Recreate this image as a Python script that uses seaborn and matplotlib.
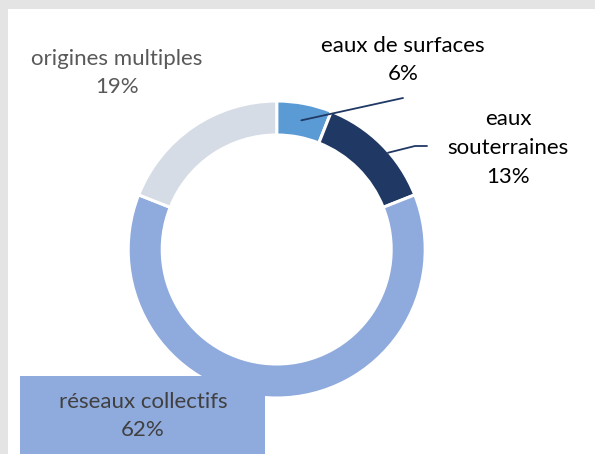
import numpy as np
import matplotlib
matplotlib.use("Agg")
import matplotlib.pyplot as plt
import seaborn as sns
from matplotlib.patches import Rectangle

# donnees du graphique
categories = ["eaux de surfaces", "eaux souterraines", "réseaux collectifs", "origines multiples"]
values     = [6, 13, 62, 19]
labels     = ["eaux de surfaces\n6%", "eaux\nsouterraines\n13%", "réseaux collectifs\n62%", "origines multiples\n19%"]
colors     = ["#5B9BD5", "#203864", "#8FAADC", "#D6DCE5"]

sns.set_theme(style="white")
plt.rcParams["font.family"] = ["Lato", "DejaVu Sans"]

W, H = 595, 454
fig = plt.figure(figsize=(W / 100, H / 100), dpi=100)
fig.patch.set_facecolor("#E4E4E4")

ax = fig.add_axes([0, 0, 1, 1])
ax.patch.set_alpha(0)

cx, cy = 276.7, H - 249.5
R = 148.5
ring = 34

# fond blanc de la zone du graphique
ax.add_patch(Rectangle((8, 0), W, H - 9, facecolor="white", edgecolor="none", zorder=-5))

wedges, _ = ax.pie(values, colors=colors, startangle=90, counterclock=False,
                   center=(cx, cy), radius=R, frame=True,
                   wedgeprops=dict(width=ring, edgecolor="white", linewidth=2.2))
ax.set_xlim(0, W)
ax.set_ylim(0, H)
ax.set_aspect("equal")
ax.axis("off")

fs = 16
ls = 1.55
txt = "#404040"
# etiquettes
ax.text(117, H - 73, labels[3], ha="center", va="center", fontsize=fs, color="#595959", linespacing=ls)
ax.text(403, H - 60, labels[0], ha="center", va="center", fontsize=fs, color="black", linespacing=ls)
ax.text(508, H - 148, labels[1], ha="center", va="center", fontsize=fs, color="black", linespacing=ls)

ax.add_patch(Rectangle((20, 0), 245, H - 376, facecolor=colors[2], edgecolor="none", zorder=5))
ax.text(143, H - 416, labels[2], ha="center", va="center", fontsize=fs, color=txt,
        linespacing=ls, zorder=6)

# lignes de rappel
def mid(i, r, shift=0.0):
    w = wedges[i]
    a = np.deg2rad((w.theta1 + w.theta2) / 2 + shift)
    return cx + r * np.cos(a), cy + r * np.sin(a)

x0, y0 = mid(0, R - ring / 2)
ax.plot([x0, 403], [y0, H - 98], color="#203864", lw=1.3, zorder=7)
x1, y1 = mid(1, R - 1, shift=-4)
ax.plot([x1, 415, 427], [y1, H - 146, H - 146], color="#203864", lw=1.3, zorder=7)

fig.savefig("out.png", dpi=100)
